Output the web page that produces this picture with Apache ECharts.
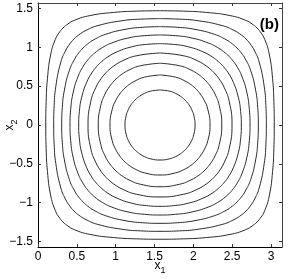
<!DOCTYPE html>
<html>
<head>
<meta charset="utf-8">
<script src="https://cdn.jsdelivr.net/npm/echarts@6/dist/echarts.min.js"></script>
<style>html,body{margin:0;padding:0;background:#fff}#c{width:288px;height:279px}</style>
</head>
<body>
<div id="c"></div>
<script>
// Axis ticks
var xTicks = [0, 0.5, 1, 1.5, 2, 2.5, 3];
var yTicks = [-1.5, -1, -0.5, 0, 0.5, 1, 1.5];
var xRange = [0, 3.1416];
var yRange = [-1.5708, 1.5708];
var panelLabel = '(b)';

// Contour curves (x1, x2), outermost to innermost
var curve01 = [[1.571,1.471],[1.871,1.466],[2.171,1.449],[2.471,1.409],[2.671,1.349],[2.771,1.291],[2.820,1.249],[2.862,1.2],[2.920,1.1],[2.980,0.9],[3.020,0.6],[3.037,0.3],[3.042,0],
  [3.037,-0.3],[3.020,-0.6],[2.980,-0.9],[2.920,-1.1],[2.862,-1.2],[2.820,-1.249],[2.771,-1.291],[2.671,-1.349],[2.471,-1.409],[2.171,-1.449],[1.871,-1.466],[1.571,-1.471],
  [1.271,-1.466],[0.971,-1.449],[0.671,-1.409],[0.471,-1.349],[0.371,-1.291],[0.322,-1.249],[0.280,-1.2],[0.222,-1.1],[0.162,-0.9],[0.122,-0.6],[0.105,-0.3],[0.100,0],
  [0.105,0.3],[0.122,0.6],[0.162,0.9],[0.222,1.1],[0.280,1.2],[0.322,1.249],[0.371,1.291],[0.471,1.349],[0.671,1.409],[0.971,1.449],[1.271,1.466],[1.571,1.471]];
var curve02 = [[1.571,1.369],[1.821,1.363],[2.071,1.341],[2.371,1.280],[2.521,1.220],[2.621,1.157],[2.678,1.107],[2.728,1.05],[2.791,0.95],[2.851,0.8],[2.912,0.5],[2.934,0.25],[2.940,0],
  [2.934,-0.25],[2.912,-0.5],[2.851,-0.8],[2.791,-0.95],[2.728,-1.05],[2.678,-1.107],[2.621,-1.157],[2.521,-1.220],[2.371,-1.280],[2.071,-1.341],[1.821,-1.363],[1.571,-1.369],
  [1.321,-1.363],[1.071,-1.341],[0.771,-1.280],[0.621,-1.220],[0.521,-1.157],[0.464,-1.107],[0.414,-1.05],[0.351,-0.95],[0.291,-0.8],[0.230,-0.5],[0.208,-0.25],[0.202,0],
  [0.208,0.25],[0.230,0.5],[0.291,0.8],[0.351,0.95],[0.414,1.05],[0.464,1.107],[0.521,1.157],[0.621,1.220],[0.771,1.280],[1.071,1.341],[1.321,1.363],[1.571,1.369]];
var curve03 = [[1.571,1.266],[1.796,1.258],[2.021,1.231],[2.271,1.168],[2.421,1.099],[2.501,1.045],[2.562,0.991],[2.616,0.93],[2.670,0.85],[2.739,0.7],[2.802,0.45],[2.829,0.225],[2.837,0],
  [2.829,-0.225],[2.802,-0.45],[2.739,-0.7],[2.670,-0.85],[2.616,-0.93],[2.562,-0.991],[2.501,-1.045],[2.421,-1.099],[2.271,-1.168],[2.021,-1.231],[1.796,-1.258],[1.571,-1.266],
  [1.346,-1.258],[1.121,-1.231],[0.871,-1.168],[0.721,-1.099],[0.641,-1.045],[0.580,-0.991],[0.526,-0.93],[0.472,-0.85],[0.403,-0.7],[0.340,-0.45],[0.313,-0.225],[0.305,0],
  [0.313,0.225],[0.340,0.45],[0.403,0.7],[0.472,0.85],[0.526,0.93],[0.580,0.991],[0.641,1.045],[0.721,1.099],[0.871,1.168],[1.121,1.231],[1.346,1.258],[1.571,1.266]];
var curve04 = [[1.571,1.159],[1.771,1.150],[1.971,1.122],[2.191,1.057],[2.331,0.986],[2.411,0.928],[2.457,0.886],[2.499,0.84],[2.557,0.76],[2.628,0.62],[2.693,0.4],[2.721,0.2],[2.730,0],
  [2.721,-0.2],[2.693,-0.4],[2.628,-0.62],[2.557,-0.76],[2.499,-0.84],[2.457,-0.886],[2.411,-0.928],[2.331,-0.986],[2.191,-1.057],[1.971,-1.122],[1.771,-1.150],[1.571,-1.159],
  [1.371,-1.150],[1.171,-1.122],[0.951,-1.057],[0.811,-0.986],[0.731,-0.928],[0.685,-0.886],[0.643,-0.84],[0.585,-0.76],[0.514,-0.62],[0.449,-0.4],[0.421,-0.2],[0.412,0],
  [0.421,0.2],[0.449,0.4],[0.514,0.62],[0.585,0.76],[0.643,0.84],[0.685,0.886],[0.731,0.928],[0.811,0.986],[0.951,1.057],[1.171,1.122],[1.371,1.150],[1.571,1.159]];
var curve05 = [[1.571,1.047],[1.746,1.038],[1.921,1.010],[2.121,0.944],[2.251,0.872],[2.321,0.818],[2.356,0.785],[2.389,0.75],[2.443,0.68],[2.515,0.55],[2.581,0.35],[2.609,0.175],[2.618,0],
  [2.609,-0.175],[2.581,-0.35],[2.515,-0.55],[2.443,-0.68],[2.389,-0.75],[2.356,-0.785],[2.321,-0.818],[2.251,-0.872],[2.121,-0.944],[1.921,-1.010],[1.746,-1.038],[1.571,-1.047],
  [1.396,-1.038],[1.221,-1.010],[1.021,-0.944],[0.891,-0.872],[0.821,-0.818],[0.786,-0.785],[0.753,-0.75],[0.699,-0.68],[0.627,-0.55],[0.561,-0.35],[0.533,-0.175],[0.524,0],
  [0.533,0.175],[0.561,0.35],[0.627,0.55],[0.699,0.68],[0.753,0.75],[0.786,0.785],[0.821,0.818],[0.891,0.872],[1.021,0.944],[1.221,1.010],[1.396,1.038],[1.571,1.047]];
var curve06 = [[1.571,0.927],[1.871,0.892],[2.051,0.828],[2.171,0.757],[2.231,0.708],[2.256,0.685],[2.279,0.66],[2.328,0.6],[2.399,0.48],[2.463,0.3],[2.498,0],
  [2.463,-0.3],[2.399,-0.48],[2.328,-0.6],[2.279,-0.66],[2.256,-0.685],[2.231,-0.708],[2.171,-0.757],[2.051,-0.828],[1.871,-0.892],[1.571,-0.927],
  [1.271,-0.892],[1.091,-0.828],[0.971,-0.757],[0.911,-0.708],[0.886,-0.685],[0.863,-0.66],[0.814,-0.6],[0.743,-0.48],[0.679,-0.3],[0.644,0],
  [0.679,0.3],[0.743,0.48],[0.814,0.6],[0.863,0.66],[0.886,0.685],[0.911,0.708],[0.971,0.757],[1.091,0.828],[1.271,0.892],[1.571,0.927]];
var curve07 = [[1.571,0.795],[1.821,0.763],[1.971,0.707],[2.071,0.647],[2.121,0.607],[2.151,0.580],[2.178,0.55],[2.218,0.5],[2.278,0.4],[2.334,0.25],[2.366,0],
  [2.334,-0.25],[2.278,-0.4],[2.218,-0.5],[2.178,-0.55],[2.151,-0.580],[2.121,-0.607],[2.071,-0.647],[1.971,-0.707],[1.821,-0.763],[1.571,-0.795],
  [1.321,-0.763],[1.171,-0.707],[1.071,-0.647],[1.021,-0.607],[0.991,-0.580],[0.964,-0.55],[0.924,-0.5],[0.864,-0.4],[0.808,-0.25],[0.776,0],
  [0.808,0.25],[0.864,0.4],[0.924,0.5],[0.964,0.55],[0.991,0.580],[1.021,0.607],[1.071,0.647],[1.171,0.707],[1.321,0.763],[1.571,0.795]];
var curve08 = [[1.571,0.644],[1.771,0.616],[1.891,0.568],[1.971,0.518],[2.011,0.486],[2.035,0.464],[2.057,0.44],[2.089,0.4],[2.139,0.32],[2.187,0.2],[2.215,0],
  [2.187,-0.2],[2.139,-0.32],[2.089,-0.4],[2.057,-0.44],[2.035,-0.464],[2.011,-0.486],[1.971,-0.518],[1.891,-0.568],[1.771,-0.616],[1.571,-0.644],
  [1.371,-0.616],[1.251,-0.568],[1.171,-0.518],[1.131,-0.486],[1.107,-0.464],[1.085,-0.44],[1.053,-0.4],[1.003,-0.32],[0.955,-0.2],[0.927,0],
  [0.955,0.2],[1.003,0.32],[1.053,0.4],[1.085,0.44],[1.107,0.464],[1.131,0.486],[1.171,0.518],[1.251,0.568],[1.371,0.616],[1.571,0.644]];
var curve09 = [[1.571,0.451],[1.691,0.436],[1.771,0.407],[1.831,0.373],[1.871,0.342],[1.893,0.322],[1.913,0.3],[1.944,0.26],[1.978,0.2],[2.007,0.12],[2.022,0],
  [2.007,-0.12],[1.978,-0.2],[1.944,-0.26],[1.913,-0.3],[1.893,-0.322],[1.871,-0.342],[1.831,-0.373],[1.771,-0.407],[1.691,-0.436],[1.571,-0.451],
  [1.451,-0.436],[1.371,-0.407],[1.311,-0.373],[1.271,-0.342],[1.249,-0.322],[1.229,-0.3],[1.198,-0.26],[1.164,-0.2],[1.135,-0.12],[1.120,0],
  [1.135,0.12],[1.164,0.2],[1.198,0.26],[1.229,0.3],[1.249,0.322],[1.271,0.342],[1.311,0.373],[1.371,0.407],[1.451,0.436],[1.571,0.451]];
var curves = [curve01, curve02, curve03, curve04, curve05, curve06, curve07, curve08, curve09];

var FONT = '"Liberation Sans", Arial, Helvetica, sans-serif';
function fmt(v) { return v < 0 ? '\u2212' + Math.abs(v) : String(v); }

var chart = echarts.init(document.getElementById('c'), null, {renderer: 'canvas'});
var grid = {left: 38, right: 6, top: 3, bottom: 32, containLabel: false, outerBoundsMode: 'none'};
var lineCol = '#000';
var nameRich = {a: {fontSize: 12, fontFamily: FONT, color: '#000'}, b: {fontSize: 9, fontFamily: FONT, color: '#000', padding: [9, 0, 0, 0]}};

function mkX(pos, showLabel, name) {
  return {
    type: 'value', position: pos, min: xRange[0], max: xRange[1],
    axisLine: {show: true, onZero: false, lineStyle: {color: pos === 'top' ? '#444' : lineCol, width: 1}},
    axisTick: {show: true, inside: true, length: 3, customValues: xTicks, lineStyle: {color: '#333'}},
    axisLabel: {show: showLabel, customValues: xTicks, formatter: fmt, fontFamily: FONT, fontSize: 12, color: '#000', margin: 4},
    splitLine: {show: false},
    name: name || '', nameLocation: 'middle', nameGap: 10, nameMoveOverlap: false,
    nameTextStyle: {fontFamily: FONT, color: '#000', rich: nameRich}
  };
}
function mkY(pos, showLabel, name) {
  return {
    type: 'value', position: pos, min: yRange[0], max: yRange[1],
    axisLine: {show: true, onZero: false, lineStyle: {color: pos === 'right' ? '#444' : lineCol, width: 1}},
    axisTick: {show: true, inside: true, length: 3, customValues: yTicks, lineStyle: {color: '#333'}},
    axisLabel: {show: showLabel, customValues: yTicks, formatter: fmt, fontFamily: FONT, fontSize: 12, color: '#000', margin: 5},
    splitLine: {show: false},
    name: name || '', nameLocation: 'middle', nameGap: 19, nameRotate: 90, nameMoveOverlap: false,
    nameTextStyle: {fontFamily: FONT, color: '#000', rich: nameRich}
  };
}

var series = curves.map(function (c) {
  return {
    type: 'line', data: c, xAxisIndex: 0, yAxisIndex: 0,
    showSymbol: false, symbol: 'none', smooth: 0.5,
    lineStyle: {color: '#2a2a2a', width: 1},
    silent: true, animation: false
  };
});

chart.setOption({
  animation: false,
  grid: grid,
  xAxis: [mkX('bottom', true, '{a|x}{b|1}'), mkX('top', false)],
  yAxis: [mkY('left', true, '{a|x}{b|2}'), mkY('right', false)],
  series: series,
  graphic: [{
    type: 'text', right: 9, top: 17,
    style: {text: panelLabel, font: 'bold 15px ' + FONT, fill: '#000'}
  }]
});
</script>
</body>
</html>
